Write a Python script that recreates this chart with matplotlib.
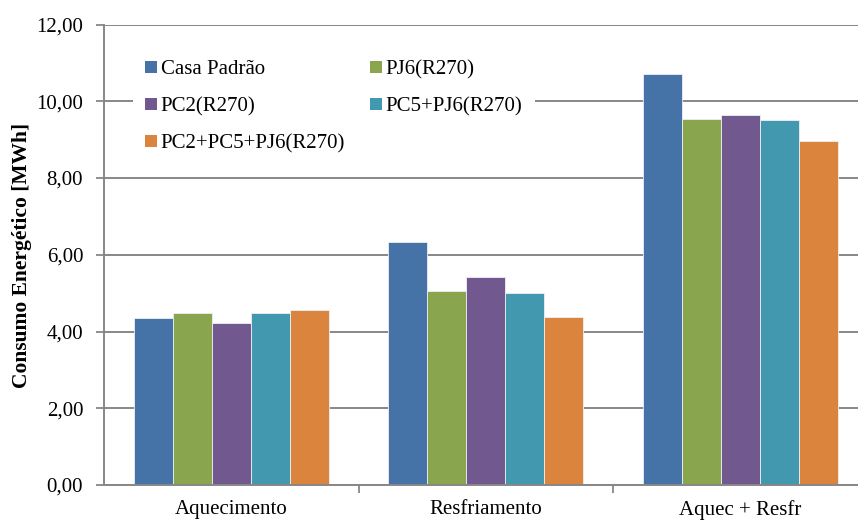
"""Consumo energético por estratégia: barras agrupadas (aquecimento, resfriamento, total)."""
import matplotlib
matplotlib.use("Agg")
import matplotlib.pyplot as plt
import numpy as np
from matplotlib.patches import Patch
from matplotlib.ticker import FuncFormatter, MultipleLocator

categorias = ["Aquecimento", "Resfriamento", "Aquec + Resfr"]
series = ["Casa Padrão", "PJ6(R270)", "PC2(R270)", "PC5+PJ6(R270)", "PC2+PC5+PJ6(R270)"]
casa_padrao = [4.35, 6.34, 10.70]
pj6 = [4.47, 5.06, 9.54]
pc2 = [4.22, 5.43, 9.63]
pc5_pj6 = [4.49, 5.00, 9.50]
pc2_pc5_pj6 = [4.56, 4.38, 8.96]
valores = [casa_padrao, pj6, pc2, pc5_pj6, pc2_pc5_pj6]
cores = ["#4572A7", "#89A54E", "#71588F", "#4198AF", "#DB843D"]

plt.rcParams["font.family"] = ["Liberation Serif", "DejaVu Serif"]

W, H = 858, 520
fig = plt.figure(figsize=(W / 100, H / 100), dpi=100)
# eixo um pouco mais largo que a figura (o original está cortado à direita)
ax = fig.add_axes([104 / W, 35 / H, 763.5 / W, 460.5 / H])

x = np.arange(len(categorias))
larg = 0.153
for i, (nome, vals, cor) in enumerate(zip(series, valores, cores)):
    ax.bar(x + (i - 2) * larg, vals, width=larg, color=cor, edgecolor="#eef0f4",
           linewidth=0.6, label=nome, zorder=2)

ax.set_xlim(-0.5, 2.5)
ax.set_ylim(0, 12)
ax.yaxis.set_major_locator(MultipleLocator(2))
ax.yaxis.set_major_formatter(FuncFormatter(lambda v, _: f"{v:.2f}".replace(".", ",")))
ax.set_xticks(x)
ax.set_xticklabels(categorias)
ax.set_xticks([0.5, 1.5], minor=True)
ax.tick_params(axis="x", which="major", length=0, pad=11, labelsize=15)
ax.tick_params(axis="x", which="minor", length=6, width=1.3, color="#878787", direction="out")
ax.tick_params(axis="y", length=6, width=1.3, color="#878787", pad=9, labelsize=15)

ax.grid(axis="y", color="#878787", linewidth=1.4, zorder=0)
ax.set_axisbelow(True)
for lado in ("top", "right"):
    ax.spines[lado].set_visible(False)
for lado in ("left", "bottom"):
    ax.spines[lado].set_color("#878787")
    ax.spines[lado].set_linewidth(1.4)

ax.set_ylabel("Consumo Energético [MWh]", fontsize=15.5, fontweight="bold")
ax.yaxis.set_label_coords(-0.094, 0.498)

# legenda em linhas: a ordem das alças é por coluna
handles = [Patch(facecolor=c, edgecolor="none") for c in cores]
ordem = [0, 2, 4, 1, 3]
leg = ax.legend([handles[k] for k in ordem], [series[k] for k in ordem], ncol=2,
                loc="upper left", bbox_to_anchor=(133 / W, 1 - 48 / H),
                bbox_transform=fig.transFigure, borderaxespad=0, fontsize=15,
                handlelength=0.55, handleheight=0.55, handletextpad=0.2,
                columnspacing=1.2, labelspacing=0.85, borderpad=0.58,
                frameon=True, fancybox=False)
leg.get_frame().set_facecolor("white")
leg.get_frame().set_edgecolor("none")
leg.get_frame().set_alpha(1)

fig.savefig("out.png", dpi=100)
